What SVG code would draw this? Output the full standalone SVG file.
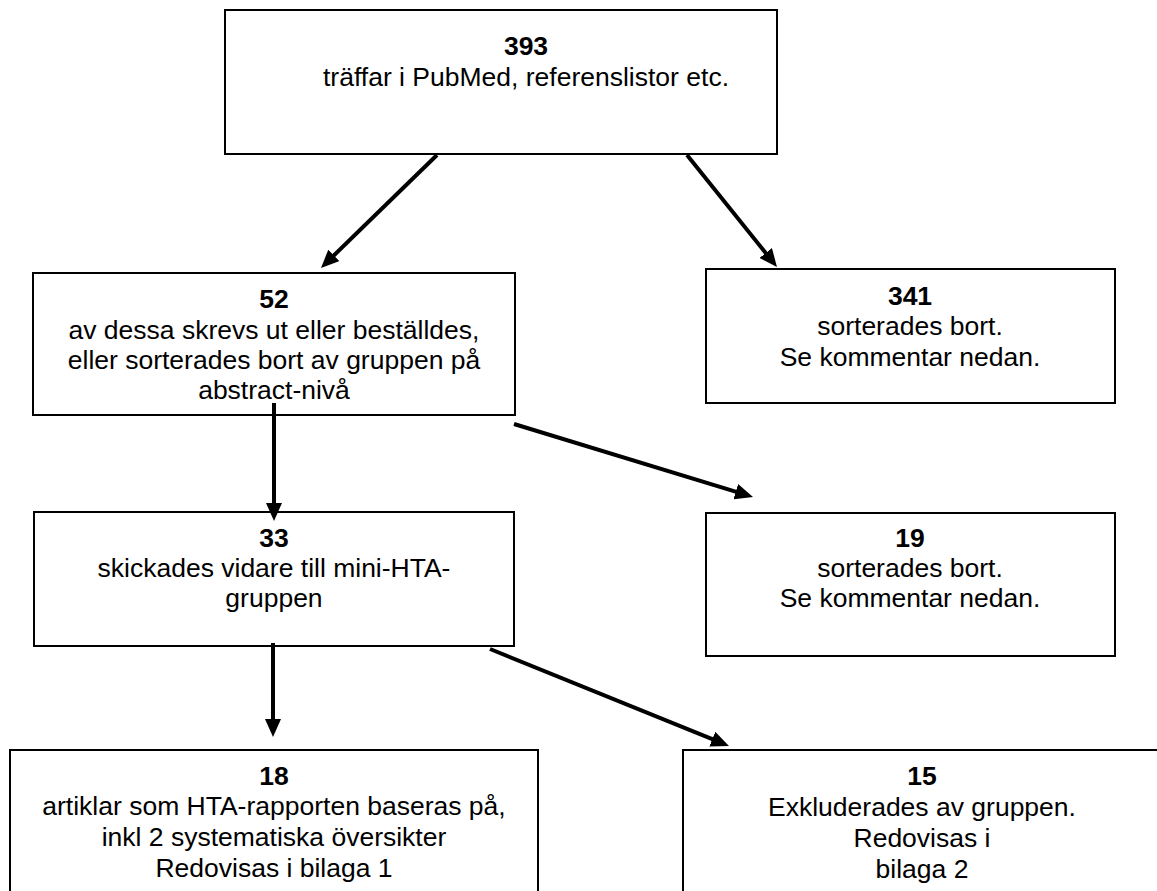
<svg xmlns="http://www.w3.org/2000/svg" width="1157" height="891" viewBox="0 0 1157 891">
<style>
.box{fill:#fff;stroke:#000;stroke-width:2}
text{font-family:"Liberation Sans",Arial,sans-serif;font-size:26.5px;fill:#000;text-anchor:middle}
.num{font-weight:bold}
.conn line{stroke:#000;stroke-width:4;marker-end:url(#ah)}
</style>
<defs>
<marker id="ah" markerUnits="userSpaceOnUse" markerWidth="18" markerHeight="16" viewBox="0 0 18 16" refX="4" refY="8" orient="auto">
<path d="M0,0 L18,8 L0,16 z" fill="#000"/>
</marker>
</defs>
<rect width="1157" height="891" fill="#fff"/>
<g id="n393">
<rect class="box" x="225" y="10" width="552" height="144"/>
<text x="526" y="55" class="num">393</text>
<text x="526" y="86">träffar i PubMed, referenslistor etc.</text>
</g>
<g id="n52">
<rect class="box" x="33" y="273" width="482" height="142"/>
<text x="274" y="308" class="num">52</text>
<text x="274" y="339">av dessa skrevs ut eller beställdes,</text>
<text x="274" y="369">eller sorterades bort av gruppen på</text>
<text x="274" y="399">abstract-nivå</text>
</g>
<g id="n341">
<rect class="box" x="706" y="269" width="409" height="134"/>
<text x="910" y="305" class="num">341</text>
<text x="910" y="335">sorterades bort.</text>
<text x="910" y="366">Se kommentar nedan.</text>
</g>
<g id="n33">
<rect class="box" x="34" y="512" width="480" height="134"/>
<text x="274" y="547" class="num">33</text>
<text x="274" y="577">skickades vidare till mini-HTA-</text>
<text x="274" y="607">gruppen</text>
</g>
<g id="n19">
<rect class="box" x="706" y="513" width="409" height="143"/>
<text x="910" y="547" class="num">19</text>
<text x="910" y="577">sorterades bort.</text>
<text x="910" y="607">Se kommentar nedan.</text>
</g>
<g id="n18">
<rect class="box" x="10" y="750" width="528" height="160"/>
<text x="274" y="785" class="num">18</text>
<text x="274" y="815">artiklar som HTA-rapporten baseras på,</text>
<text x="274" y="846">inkl 2 systematiska översikter</text>
<text x="274" y="877">Redovisas i bilaga 1</text>
</g>
<g id="n15">
<rect class="box" x="683" y="750" width="490" height="160"/>
<text x="922" y="785" class="num">15</text>
<text x="922" y="816">Exkluderades av gruppen.</text>
<text x="922" y="847">Redovisas i</text>
<text x="922" y="878">bilaga 2</text>
</g>
<g id="connectors" class="conn">
<line x1="437" y1="155" x2="331" y2="258.2"/>
<line x1="687" y1="155" x2="768.2" y2="256.1"/>
<line x1="274" y1="403" x2="274" y2="507"/>
<line x1="514" y1="424" x2="739.6" y2="492.9"/>
<line x1="273" y1="643" x2="273" y2="723"/>
<line x1="490" y1="649" x2="716" y2="740.7"/>
</g>
</svg>
